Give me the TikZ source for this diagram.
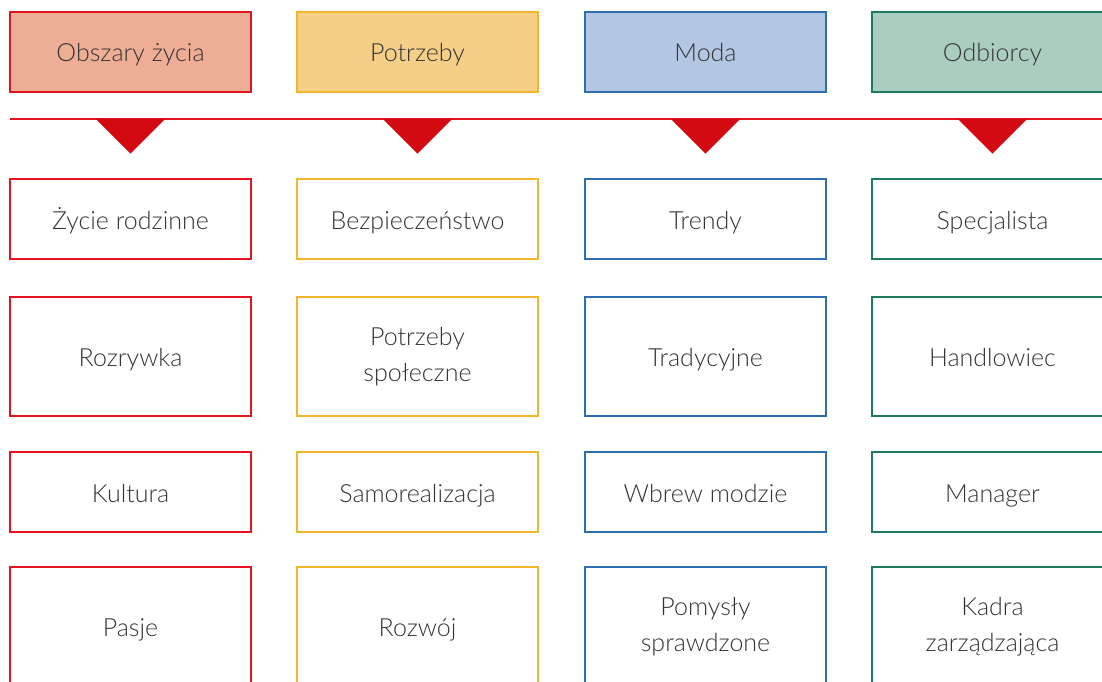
\documentclass[tikz,border=0pt]{standalone}
\usepackage{fontspec}
\setmainfont{Lato Light}
\usetikzlibrary{calc}
\definecolor{czerwony}{HTML}{E3141E}
\definecolor{czerwonyjasny}{HTML}{EEAD95}
\definecolor{zolty}{HTML}{F2B52E}
\definecolor{zoltyjasny}{HTML}{F5CF87}
\definecolor{niebieski}{HTML}{2E6DAF}
\definecolor{niebieskijasny}{HTML}{B4C7E2}
\definecolor{zielony}{HTML}{1E7B5A}
\definecolor{zielonyjasny}{HTML}{ABCDBF}
\definecolor{strzalka}{HTML}{D40A12}
\definecolor{tekst}{HTML}{333333}
\begin{document}
\begin{tikzpicture}[x=1pt,y=-1pt,
    box/.style={draw=#1,line width=1.2pt,minimum width=241pt,align=center,
      text=tekst,font=\fontsize{25}{36}\selectfont,inner sep=0pt,
      text height=22pt,text depth=2pt},
    head/.style={box=#1,minimum height=80pt},
    low/.style={box=#1,minimum height=80pt},
    high/.style={box=#1,minimum height=119pt},
    twoline/.style={text height=56pt,text depth=6pt},
    tri/.style={fill=strzalka}]
      \useasboundingbox (0,0) rectangle (1102,682);
      \clip (0,0) rectangle (1102,682);
      % naglowki
      \node[head=czerwony,fill=czerwonyjasny] (h1) at (130.5,52) {Obszary życia};
      \node[head=zolty,fill=zoltyjasny] (h2) at (417.5,52) {Potrzeby};
      \node[head=niebieski,fill=niebieskijasny] (h3) at (705.5,52) {Moda};
      \node[head=zielony,fill=zielonyjasny] (h4) at (992.5,52) {Odbiorcy};
      % linia i trojkaty
      \coordinate (l0) at (10,119);
      \coordinate (l1) at (1110,119);
      \draw[czerwony,line width=2pt] (l0) -- (l1);
      \fill[tri] ($(h1.south)+(-35,26)$) -- ($(h1.south)+(35,26)$) -- ($(h1.south)+(0,61)$) -- cycle;
      \fill[tri] ($(h2.south)+(-35,26)$) -- ($(h2.south)+(35,26)$) -- ($(h2.south)+(0,61)$) -- cycle;
      \fill[tri] ($(h3.south)+(-35,26)$) -- ($(h3.south)+(35,26)$) -- ($(h3.south)+(0,61)$) -- cycle;
      \fill[tri] ($(h4.south)+(-35,26)$) -- ($(h4.south)+(35,26)$) -- ($(h4.south)+(0,61)$) -- cycle;
      % obszary zycia
      \node[low=czerwony] (a1) at (130.5,219) {Życie rodzinne};
      \node[high=czerwony] (a2) at (130.5,356.5) {Rozrywka};
      \node[low=czerwony] (a3) at (130.5,492) {Kultura};
      \node[high=czerwony] (a4) at (130.5,626.5) {Pasje};
      % potrzeby
      \node[low=zolty] (b1) at (417.5,219) {Bezpieczeństwo};
      \node[high=zolty,twoline] (b2) at (417.5,356.5) {Potrzeby\\społeczne};
      \node[low=zolty] (b3) at (417.5,492) {Samorealizacja};
      \node[high=zolty] (b4) at (417.5,626.5) {Rozwój};
      % moda
      \node[low=niebieski] (c1) at (705.5,219) {Trendy};
      \node[high=niebieski] (c2) at (705.5,356.5) {Tradycyjne};
      \node[low=niebieski] (c3) at (705.5,492) {Wbrew modzie};
      \node[high=niebieski,twoline] (c4) at (705.5,626.5) {Pomysły\\sprawdzone};
      % odbiorcy
      \node[low=zielony] (d1) at (992.5,219) {Specjalista};
      \node[high=zielony] (d2) at (992.5,356.5) {Handlowiec};
      \node[low=zielony] (d3) at (992.5,492) {Manager};
      \node[high=zielony,twoline] (d4) at (992.5,626.5) {Kadra\\zarządzająca};
\end{tikzpicture}
\end{document}
